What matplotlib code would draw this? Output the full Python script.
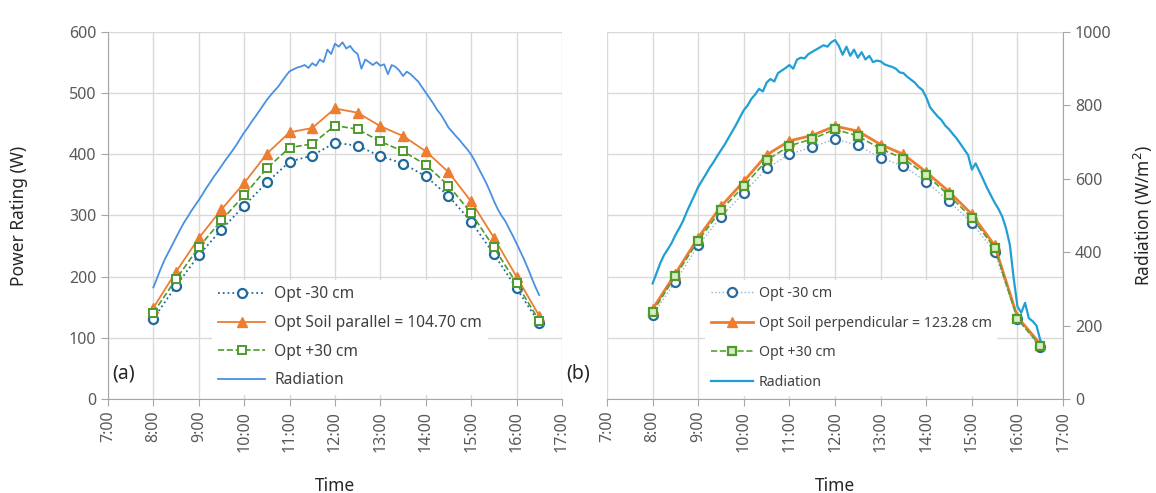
import numpy as np
import matplotlib.pyplot as plt

plt.rcParams['font.family'] = ['Noto Sans', 'DejaVu Sans']

# half-hour measurement times (hours)
times = [8.0, 8.5, 9.0, 9.5, 10.0, 10.5, 11.0, 11.5, 12.0,
         12.5, 13.0, 13.5, 14.0, 14.5, 15.0, 15.5, 16.0, 16.5]

# (a) soil parallel
a_minus30 = [131, 185, 235, 277, 316, 354, 388, 398, 419,
             414, 397, 385, 364, 332, 290, 237, 181, 124]
a_opt = [149, 208, 263, 310, 353, 401, 436, 443, 475,
         468, 446, 430, 405, 371, 323, 264, 200, 136]
a_plus30 = [141, 196, 248, 292, 333, 377, 411, 417, 447,
            441, 421, 405, 383, 349, 304, 248, 189, 128]

# (b) soil perpendicular
b_minus30 = [137, 192, 251, 298, 337, 377, 400, 412, 425,
             415, 394, 381, 355, 323, 288, 240, 130, 85]
b_opt = [147, 205, 264, 315, 356, 399, 422, 431, 446,
         438, 416, 400, 371, 339, 302, 251, 134, 90]
b_plus30 = [142, 201, 259, 309, 348, 390, 414, 425, 441,
            430, 409, 393, 366, 333, 296, 247, 131, 87]

# radiation (W/m2), every 5 minutes from 8:00 to 16:30
rad_times = np.arange(8 * 60, 16 * 60 + 31, 5) / 60.0
rad_a = [304, 330, 356, 380, 400, 420, 440, 460, 479, 495, 512, 527,
         542, 558, 575, 590, 606, 620, 635, 650, 664, 678, 693, 710,
         726, 740, 756, 770, 785, 800, 815, 828, 840, 851, 866, 880,
         893, 898, 903, 906, 910, 902, 915, 908, 925, 918, 952, 940,
         968, 960, 972, 955, 962, 948, 940, 900, 925, 918, 910, 918,
         908, 912, 885, 910, 905, 895, 880, 892, 885, 875, 865, 850,
         835, 820, 805, 788, 775, 758, 740, 728, 716, 705, 692, 680,
         666, 648, 628, 608, 588, 565, 540, 518, 500, 485, 465, 445,
         424, 402, 380, 356, 330, 305, 283]
rad_b = [315, 342, 370, 392, 408, 425, 447, 465, 485, 510, 533, 555,
         578, 595, 612, 630, 645, 662, 678, 694, 712, 730, 748, 768,
         787, 800, 818, 830, 845, 838, 862, 872, 865, 888, 895, 902,
         910, 900, 925, 930, 928, 940, 946, 952, 958, 964, 960, 972,
         978, 962, 938, 960, 935, 952, 930, 945, 925, 935, 918, 922,
         920, 912, 908, 905, 900, 890, 888, 878, 870, 862, 850, 842,
         822, 795, 782, 770, 760, 745, 735, 722, 710, 695, 680, 665,
         625, 642, 620, 598, 575, 555, 535, 518, 497, 465, 420, 330,
         252, 235, 262, 220, 212, 200, 161]

hours = list(range(7, 18))
hour_labels = [f'{h}:00' for h in hours]

label_c = '#595959'
grid_c = '#d9d9d9'
spine_c = '#a6a6a6'

fig = plt.figure(figsize=(11.56, 4.93), dpi=100)
ax_a = fig.add_axes([0.0934, 0.1907, 0.3927, 0.7444])
ax_b = fig.add_axes([0.5251, 0.1907, 0.3945, 0.7444])


def style_power_axis(ax, show_y):
    ax.set_xlim(7, 17)
    ax.set_ylim(0, 600)
    ax.set_xticks(hours)
    ax.set_xticklabels(hour_labels, rotation=90)
    ax.set_yticks(range(0, 601, 100))
    ax.grid(True, color=grid_c, linewidth=1.0)
    ax.set_axisbelow(True)
    for s in ['top', 'right']:
        ax.spines[s].set_visible(False)
    ax.spines['bottom'].set_color(spine_c)
    ax.spines['left'].set_color(spine_c)
    ax.tick_params(colors=label_c, labelsize=11.5, length=5, color=spine_c)
    if not show_y:
        ax.spines['left'].set_visible(False)
        ax.tick_params(axis='y', length=0, labelleft=False)
    ax.set_xlabel('Time', fontsize=12.5, fontweight='semibold', color='#262626', labelpad=18)


style_power_axis(ax_a, True)
style_power_axis(ax_b, False)
ax_a.set_ylabel('Power Rating (W)', fontsize=12.5, color='#262626', labelpad=29)

# panel (a)
l1, = ax_a.plot(times, a_minus30, ':', color='#1f6a9a', lw=1.3, marker='o', ms=6.5,
                mfc='white', mec='#1f6a9a', mew=1.6, label='Opt -30 cm')
l2, = ax_a.plot(times, a_opt, '-', color='#ed7d31', lw=1.3, marker='^', ms=7.5,
                label='Opt Soil parallel = 104.70 cm')
l3, = ax_a.plot(times, a_plus30, '--', color='#4e9a2a', lw=1.2, marker='s', ms=6,
                mfc='white', mec='#4e9a2a', mew=1.4, label='Opt +30 cm')
tw_a = ax_a.twinx()
tw_a.set_ylim(0, 1000)
tw_a.axis('off')
l4, = tw_a.plot(rad_times, rad_a, '-', color='#4a90e2', lw=1.3, label='Radiation')
tw_a.legend(handles=[l1, l2, l3, l4], loc='upper left', numpoints=1,
            bbox_to_anchor=(212 / 1156, 1 - 280 / 493), bbox_transform=fig.transFigure,
            fontsize=11.2, frameon=True, facecolor='white', edgecolor='none', framealpha=1,
            handlelength=3.0, handletextpad=0.6, labelspacing=0.82, borderaxespad=0,
            borderpad=0.4, labelcolor='#404040')
ax_a.text(0.01, 0.055, '(a)', transform=ax_a.transAxes, fontsize=14, color='#262626')

# panel (b)
m1, = ax_b.plot(times, b_minus30, ':', color='#8fb3cf', lw=1.0, marker='o', ms=6.5,
                mfc='white', mec='#2a6a9e', mew=1.6, label='Opt -30 cm')
m2, = ax_b.plot(times, b_opt, '-', color='#ed7d31', lw=2.0, marker='^', ms=7.5,
                label='Opt Soil perpendicular = 123.28 cm')
m3, = ax_b.plot(times, b_plus30, '--', color='#5a9e32', lw=1.2, marker='s', ms=6,
                mfc='#d8ecc0', mec='#4e9a2a', mew=1.6, label='Opt +30 cm')
tw_b = ax_b.twinx()
tw_b.set_ylim(0, 1000)
tw_b.set_yticks(range(0, 1001, 200))
for s in ['top', 'left', 'bottom']:
    tw_b.spines[s].set_visible(False)
tw_b.spines['right'].set_color(spine_c)
tw_b.tick_params(colors=label_c, labelsize=11.5, length=5, color=spine_c)
tw_b.set_ylabel('Radiation (W/m$^2$)', fontsize=12.5, color='#262626', labelpad=15)
m4, = tw_b.plot(rad_times, rad_b, '-', color='#1f9fd6', lw=1.6, label='Radiation')
tw_b.legend(handles=[m1, m2, m3, m4], loc='upper left', numpoints=1,
            bbox_to_anchor=(705 / 1156, 1 - 280 / 493), bbox_transform=fig.transFigure,
            fontsize=10.2, frameon=True, facecolor='white', edgecolor='none', framealpha=1,
            handlelength=3.0, handletextpad=0.4, labelspacing=1.05, borderaxespad=0,
            borderpad=0.4, labelcolor='#404040')
ax_b.text(-0.09, 0.055, '(b)', transform=ax_b.transAxes, fontsize=14, color='#262626')

fig.savefig('out.png', dpi=100)
